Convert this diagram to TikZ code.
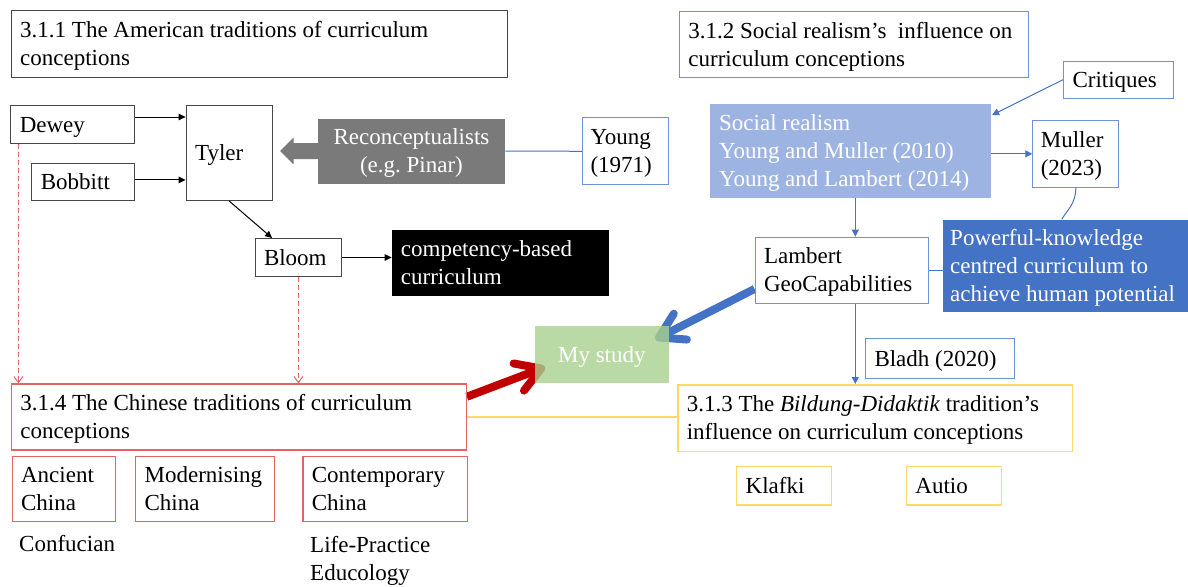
\documentclass[tikz,border=0pt]{standalone}
\usepackage{fontspec}
\setmainfont{Liberation Serif}
\usetikzlibrary{arrows.meta,calc}
\pgfdeclarelayer{under}
\pgfsetlayers{under,main}
\definecolor{amline}{RGB}{70,70,70}
\definecolor{cnred}{RGB}{228,100,100}
\definecolor{arrowred}{RGB}{192,0,0}
\definecolor{bdyellow}{RGB}{255,217,102}
\definecolor{srline}{RGB}{110,145,215}
\definecolor{srblue}{RGB}{68,114,196}
\definecolor{srlight}{RGB}{157,180,226}
\definecolor{recongray}{RGB}{122,122,122}
\definecolor{studygreen}{RGB}{169,209,142}
% fixed line box so that text sits in the boxes the same way on every line count
\newcommand\linebox{\rule[-4.6pt]{0pt}{24.6pt}}
\begin{document}
\begin{tikzpicture}[x=1pt,y=-1pt,
  font=\fontsize{23}{28}\selectfont,
  every node/.style={execute at begin node=\linebox, execute at end node=\linebox},
  box/.style={rectangle, anchor=north west, inner xsep=9pt, inner ysep=0pt, align=flush left},
  amer/.style={box, draw=amline, line width=1pt},
  chn/.style={box, draw=cnred, line width=1.2pt},
  bild/.style={box, draw=bdyellow, line width=1.5pt},
  soc/.style={box, draw=srline, line width=1pt},
  plain/.style={anchor=north west, inner sep=0pt, align=flush left},
  blackarr/.style={draw=black, line width=1pt, -{Triangle[length=7pt,width=6.5pt]}},
  bluearr/.style={draw=srblue, line width=1pt, -{Triangle[length=7pt,width=7pt]}},
  blueline/.style={draw=srblue, line width=1pt},
  reddash/.style={draw=cnred, line width=1pt, dash pattern=on 5pt off 3pt, -{Straight Barb[length=6pt,width=9pt]}},
  thickarr/.style={line width=8pt, -{Straight Barb[length=24pt,width=29pt,round]}},
]
\useasboundingbox (0,0) rectangle (1188,586);

% American traditions
\node[amer, minimum width=496.3pt, minimum height=66.7pt, text width=478.3pt] (a311) at (10.7,10) {3.1.1 The American traditions of curriculum\\conceptions};
\node[amer, minimum width=123.7pt, minimum height=38pt, text width=105.7pt] (dewey) at (10.3,105.3) {Dewey};
\node[amer, minimum width=86.1pt, minimum height=94.7pt, text width=68.1pt] (tyler) at (185.6,105.3) {Tyler};
\node[amer, minimum width=102.6pt, minimum height=37.3pt, text width=84.6pt] (bobbitt) at (31.4,162.7) {Bobbitt};
\node[amer, minimum width=86.8pt, minimum height=38pt, text width=68.8pt] (bloom) at (254.5,238) {Bloom};
\node[box, fill=black, text=white, minimum width=216.6pt, minimum height=66pt, text width=198.6pt] (comp) at (391.7,230) {competency-based\\curriculum};
\node[box, fill=recongray, text=white, minimum width=187.5pt, minimum height=65pt, align=flush center, text width=169.5pt] (recon) at (317.5,118.3) {Reconceptualists\\(e.g.\ Pinar)};

% Social realism
\node[soc, minimum width=349pt, minimum height=66.6pt, text width=331pt] (a312) at (678.9,10.7) {\mbox{3.1.2 Social realism’s\ \ influence on}\\curriculum conceptions};
\node[soc, minimum width=110.3pt, minimum height=37pt, text width=92.3pt] (crit) at (1063,60.7) {Critiques};
\node[soc, minimum width=86pt, minimum height=67pt, text width=70pt, inner xsep=8pt] (young) at (582,117.3) {Young\\(1971)};
\node[box, fill=srlight, text=white, minimum width=281pt, minimum height=93.7pt, text width=263pt] (social) at (710,104) {Social realism\\Young and Muller (2010)\\Young and Lambert (2014)};
\node[soc, minimum width=86pt, minimum height=66.7pt, text width=70pt, inner xsep=8pt] (muller) at (1032.3,120) {Muller\\(2023)};
\node[soc, minimum width=173.7pt, minimum height=66pt, text width=155.7pt] (lambert) at (754.5,236.7) {Lambert\\GeoCapabilities};
\node[box, fill=srblue, text=white, minimum width=245.5pt, minimum height=92.4pt, text width=230.5pt, inner xsep=7.5pt] (power) at (942.5,219.3) {Powerful-knowledge\\centred curriculum to\\achieve human potential};
\node[soc, minimum width=149.3pt, minimum height=39.4pt, text width=131.3pt] (bladh) at (865,338.3) {Bladh (2020)};

% Bildung-Didaktik
\node[bild, minimum width=394.7pt, minimum height=66.7pt, text width=376.7pt] (a313) at (677,384) {3.1.3 The \textit{Bildung-Didaktik} tradition’s\\influence on curriculum conceptions};
\node[bild, minimum width=95pt, minimum height=38.3pt, text width=77pt] (klafki) at (735.9,465.7) {Klafki};
\node[bild, minimum width=95pt, minimum height=38.3pt, text width=77pt] (autio) at (905.7,465.7) {Autio};

% Chinese traditions
\node[chn, minimum width=455pt, minimum height=66pt, text width=437pt] (a314) at (10.7,383.3) {3.1.4 The Chinese traditions of curriculum\\conceptions};
\node[chn, minimum width=103.3pt, minimum height=65pt, text width=85.3pt] (ancient) at (11.5,456) {Ancient\\China};
\node[chn, minimum width=138.6pt, minimum height=65pt, text width=120.6pt] (modern) at (135,456) {Modernising\\China};
\node[chn, minimum width=164.5pt, minimum height=65pt, text width=146.5pt] (contemp) at (302.3,456) {Contemporary\\China};
\node[plain] (confucian) at (19,531.7) {Confucian};
\node[plain] (lifeprac) at (310,535.7) {Life-Practice\\Educology};

% the study itself
\node[box, fill=studygreen, fill opacity=0.8, text opacity=1, text=white, minimum width=133.3pt, minimum height=56.7pt, align=flush center, inner xsep=0pt] (mystudy) at (535,326) {My study};

% connectors
\draw[blackarr] ($(dewey.north east)!0.3!(dewey.south east)$) coordinate (dw) -- (dw -| tyler.west);
\draw[blackarr] ($(bobbitt.north east)!0.45!(bobbitt.south east)$) coordinate (bb) -- (bb -| tyler.west);
\draw[blackarr] (tyler.south) -- ($(bloom.north west)!0.2!(bloom.north east)$);
\draw[blackarr] (bloom.east) -- (bloom.east -| comp.west);
\fill[recongray] ($(recon.west)+(1,-8)$) -- ++(-25,0) -- ++(0,-5.3) -- ++(-13.5,13.3) -- ++(13.5,13.3) -- ++(0,-5.3) -- ++(25,0) -- cycle;

\draw[blueline] (recon.east) -- (young.west);
\draw[bluearr] (crit.west) -- ($(social.north east)+(0.7,11)$);
\draw[bluearr] (muller.west -| social.east) -- (muller.west);
\draw[bluearr] ($(social.south west)+(145.3,0)$) coordinate (sl) -- (sl |- lambert.north);
\draw[bluearr] (lambert.south -| sl) -- (a313.north -| sl);
\draw[blueline] (muller.south) .. controls +(0,16) and +(6,-10) .. ($(power.north west)+(119.2,0)$);
\draw[blueline] (lambert.east) -- (power.west |- lambert.east);

\draw[reddash] ($(dewey.south west)+(8.1,0)$) coordinate (dd) -- (dd |- a314.north);
\draw[reddash] (bloom.south) -- (bloom.south |- a314.north);
\draw[draw=bdyellow, line width=1.5pt] (a314.east) -- (a314.east -| a313.west);

\begin{pgfonlayer}{under}
\draw[thickarr, arrowred] ($(a314.north east)!0.2!(a314.south east)$) -- ($(mystudy.south west)+(10,-16)$);
\draw[thickarr, srblue] ($(lambert.north west)!0.78!(lambert.south west)$) -- ($(mystudy.north east)+(-13.3,13.3)$);
\end{pgfonlayer}
\end{tikzpicture}
\end{document}
